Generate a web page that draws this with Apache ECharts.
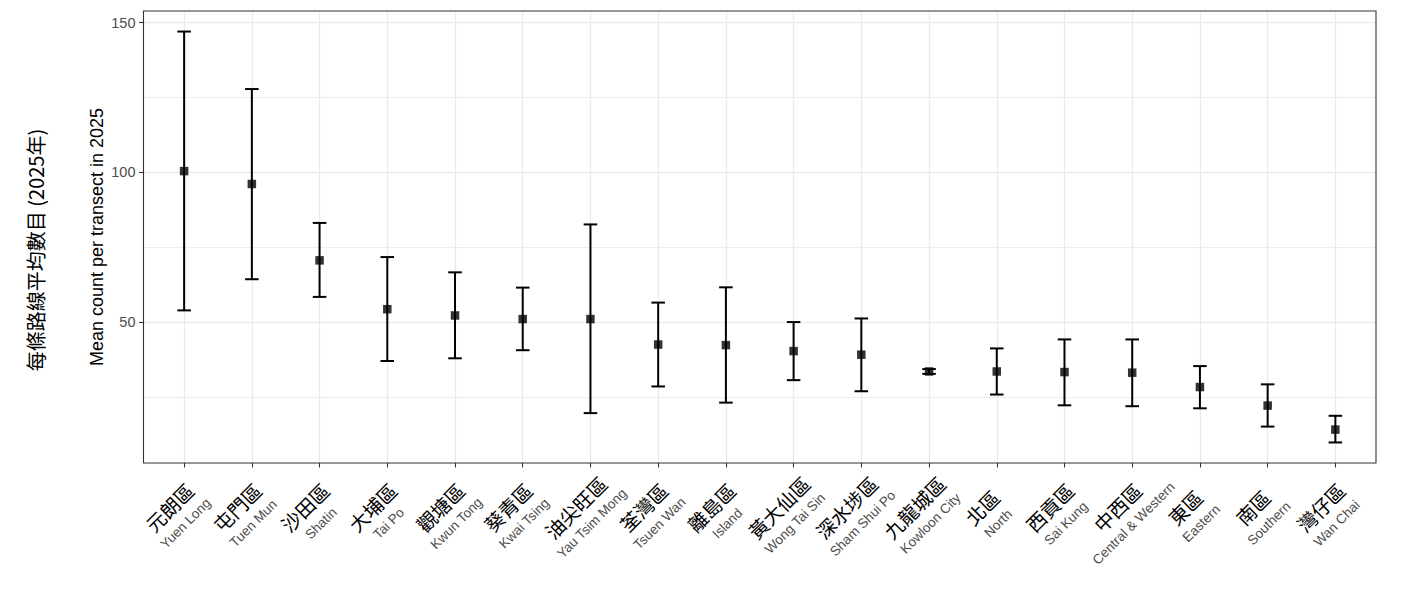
<!DOCTYPE html>
<html>
<head>
<meta charset="utf-8">
<script src="https://cdn.jsdelivr.net/npm/echarts@6/dist/echarts.min.js"></script>
<style>
html,body{margin:0;padding:0;background:#fff;}
#chart{width:1420px;height:589px;}
</style>
</head>
<body>
<div id="chart"></div>
<script>
// ---- data ----
const catsZh = ['元朗區','屯門區','沙田區','大埔區','觀塘區','葵青區','油尖旺區','荃灣區','離島區','黃大仙區','深水埗區','九龍城區','北區','西貢區','中西區','東區','南區','灣仔區'];
const catsEn = ['Yuen Long','Tuen Mun','Shatin','Tai Po','Kwun Tong','Kwai Tsing','Yau Tsim Mong','Tsuen Wan','Island','Wong Tai Sin','Sham Shui Po','Kowloon City','North','Sai Kung','Central & Western','Eastern','Southern','Wan Chai'];
const means = [100.4, 96.1, 70.6, 54.3, 52.2, 51.0, 51.0, 42.5, 42.3, 40.3, 39.1, 33.5, 33.5, 33.3, 33.1, 28.3, 22.1, 14.1];
const lower = [53.9, 64.3, 58.4, 37.0, 37.9, 40.6, 19.6, 28.5, 23.1, 30.6, 26.9, 32.7, 25.8, 22.2, 21.9, 21.2, 15.1, 9.8];
const upper = [147.0, 127.8, 83.1, 71.7, 66.6, 61.5, 82.6, 56.5, 61.6, 50.0, 51.2, 34.3, 41.2, 44.2, 44.2, 35.3, 29.2, 18.7];
const yTicks = [50, 100, 150];
const yMajorGrid = [50, 100, 150];
const yMinorGrid = [25, 75, 125];
const yRange = [2.94, 153.86];
const yTitleEn = 'Mean count per transect in 2025';
const yTitleZh = '每條路線平均數目 (2025年)';

// ---- layout ----
const PL = 143.5, PR = 1376, PT = 11, PB = 463;
const unit = (PR - PL) / (catsZh.length - 1 + 1.2);
const pad = 0.6 * unit;

const errData = catsZh.map((c, i) => [i, lower[i], upper[i]]);
const meanData = catsZh.map((c, i) => [i, means[i]]);

const gridLine = (vals, w) => vals.map(v => ({yAxis: v, lineStyle: {color: '#ebebeb', width: w, type: 'solid'}}));

const chart = echarts.init(document.getElementById('chart'), null, {renderer: 'svg'});
chart.setOption({
  animation: false,
  backgroundColor: '#ffffff',
  grid: [
    {left: PL, top: PT, width: PR - PL, height: PB - PT, show: true, borderColor: '#333333', borderWidth: 1.1, backgroundColor: 'transparent', outerBoundsMode: 'none', z: 3},
    {left: PL + pad, top: PT, width: PR - PL - 2 * pad, height: PB - PT, show: false, outerBoundsMode: 'none'}
  ],
  xAxis: [
    {type: 'value', gridIndex: 0, min: 0, max: 1, show: false},
    {type: 'value', gridIndex: 1, min: 0, max: catsZh.length - 1, interval: 1,
      axisLine: {show: false},
      axisTick: {show: true, length: 4.5, lineStyle: {color: '#333333', width: 1.1}},
      splitLine: {show: true, lineStyle: {color: '#ebebeb', width: 1.3}},
      axisLabel: {
        rotate: 45, align: 'center', verticalAlign: 'middle', margin: 59, padding: [0, 0, 21, 0],
        showMinLabel: true, showMaxLabel: true,
        formatter: v => { const i = Math.round(v); return '{zh|' + catsZh[i] + '}\n{en|' + catsEn[i] + '}'; },
        rich: {
          zh: {fontSize: 19.5, fontFamily: '"Noto Sans CJK TC"', color: '#000000', lineHeight: 25, align: 'center'},
          en: {fontSize: 13.5, fontFamily: '"Liberation Sans", Arial', color: '#4d4d4d', lineHeight: 21, align: 'center'}
        }
      }
    }
  ],
  yAxis: [
    {type: 'value', gridIndex: 0, min: yRange[0], max: yRange[1],
      axisLine: {show: false},
      axisTick: {show: true, length: 4.5, customValues: yTicks, lineStyle: {color: '#333333', width: 1.1}},
      splitLine: {show: false},
      axisLabel: {customValues: yTicks, margin: 8, fontSize: 14.5, color: '#4d4d4d', fontFamily: '"Liberation Sans", Arial'}
    },
    {type: 'value', gridIndex: 1, min: yRange[0], max: yRange[1], show: false, splitLine: {show: false}}
  ],
  graphic: [
    {type: 'text', x: 97, y: (PT + PB) / 2, rotation: Math.PI / 2,
      style: {text: yTitleEn, fontSize: 18, fontFamily: '"Liberation Sans", Arial', fill: '#000', align: 'center', verticalAlign: 'middle'}},
    {type: 'text', x: 35, y: 250, rotation: Math.PI / 2,
      style: {text: yTitleZh, fontSize: 20, fontFamily: '"Noto Sans CJK TC"', fill: '#000', align: 'center', verticalAlign: 'middle'}}
  ],
  series: [
    {type: 'line', xAxisIndex: 0, yAxisIndex: 0, data: [], z: 0, silent: true,
      markLine: {silent: true, symbol: 'none', label: {show: false}, animation: false, z: 0,
        data: gridLine(yMinorGrid, 0.9).concat(gridLine(yMajorGrid, 1.3))}},
    {type: 'custom', xAxisIndex: 1, yAxisIndex: 1, data: errData, z: 5,
      encode: {x: 0, y: [1, 2]},
      renderItem: (params, api) => {
        const x = api.value(0);
        const pLo = api.coord([x, api.value(1)]);
        const pHi = api.coord([x, api.value(2)]);
        const hw = api.size([0.2, 0])[0] / 2;
        const style = {stroke: '#000000', lineWidth: 2, fill: null};
        return {type: 'group', children: [
          {type: 'line', shape: {x1: pLo[0], y1: pLo[1], x2: pHi[0], y2: pHi[1]}, style},
          {type: 'line', shape: {x1: pLo[0] - hw, y1: pLo[1], x2: pLo[0] + hw, y2: pLo[1]}, style},
          {type: 'line', shape: {x1: pHi[0] - hw, y1: pHi[1], x2: pHi[0] + hw, y2: pHi[1]}, style}
        ]};
      }
    },
    {type: 'scatter', xAxisIndex: 1, yAxisIndex: 1, data: meanData, z: 6,
      symbol: 'rect', symbolSize: 8.5, itemStyle: {color: '#000000'}}
  ]
});
</script>
</body>
</html>
